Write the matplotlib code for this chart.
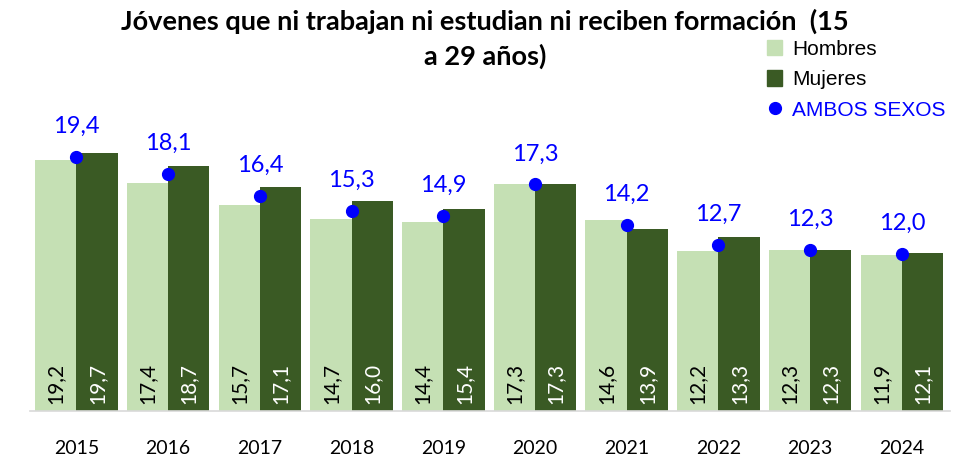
import numpy as np
import matplotlib.pyplot as plt
from matplotlib.patches import Patch
from matplotlib.lines import Line2D

years = ["2015", "2016", "2017", "2018", "2019", "2020", "2021", "2022", "2023", "2024"]
hombres = [19.2, 17.4, 15.7, 14.7, 14.4, 17.3, 14.6, 12.2, 12.3, 11.9]
mujeres = [19.7, 18.7, 17.1, 16.0, 15.4, 17.3, 13.9, 13.3, 12.3, 12.1]
ambos = [19.4, 18.1, 16.4, 15.3, 14.9, 17.3, 14.2, 12.7, 12.3, 12.0]

c_h = "#c5e0b4"
c_m = "#3a5a24"
c_a = "#0000ff"


def fmt(v):
    return f"{v:.1f}".replace(".", ",")


plt.rcParams["font.family"] = ["Lato", "DejaVu Sans"]

fig = plt.figure(figsize=(9.64, 4.69), dpi=100)
ax = fig.add_axes([0.031, 0.1237, 0.954, 0.67])

x = np.arange(len(years))
w = 0.45
ax.bar(x - w / 2, hombres, w, color=c_h)
ax.bar(x + w / 2, mujeres, w, color=c_m)
ax.plot(x, ambos, "o", color=c_a, markersize=8.5, zorder=3)

for i in range(len(years)):
    ax.text(x[i] - w / 2, 0.5, fmt(hombres[i]), rotation=90, ha="center", va="bottom",
            fontsize=15, color="black")
    ax.text(x[i] + w / 2, 0.5, fmt(mujeres[i]), rotation=90, ha="center", va="bottom",
            fontsize=15, color="white")
    ax.annotate(fmt(ambos[i]), (x[i], ambos[i]), xytext=(0, 22), textcoords="offset points",
                ha="center", va="center", fontsize=17, color=c_a)

ax.set_xlim(-0.507, 9.52)
ax.set_ylim(0, 24)
ax.set_xticks(x)
ax.set_xticklabels(years, fontsize=14)
ax.tick_params(axis="x", length=0, pad=21)
ax.set_yticks([])
for s in ["top", "right", "left"]:
    ax.spines[s].set_visible(False)
ax.spines["bottom"].set_color("#d9d9d9")
ax.spines["bottom"].set_linewidth(1.2)

fig.text(0.503, 0.955, "Jóvenes que ni trabajan ni estudian ni reciben formación  (15",
         ha="center", va="center", fontsize=19.5, fontweight="bold")
fig.text(0.503, 0.88, "a 29 años)", ha="center", va="center", fontsize=19.5, fontweight="bold")

handles = [
    Patch(color=c_h, label="Hombres"),
    Patch(color=c_m, label="Mujeres"),
    Line2D([], [], marker="o", linestyle="none", color=c_a, markersize=8.5, label="AMBOS SEXOS"),
]
leg = fig.legend(handles=handles, loc="upper left", bbox_to_anchor=(0.776, 0.955), frameon=False,
                 prop={"family": "Liberation Sans", "size": 15}, handlelength=0.75, handleheight=0.75,
                 handletextpad=0.45, labelspacing=0.55)
leg.get_texts()[2].set_color(c_a)

fig.savefig("out.png", dpi=100)
